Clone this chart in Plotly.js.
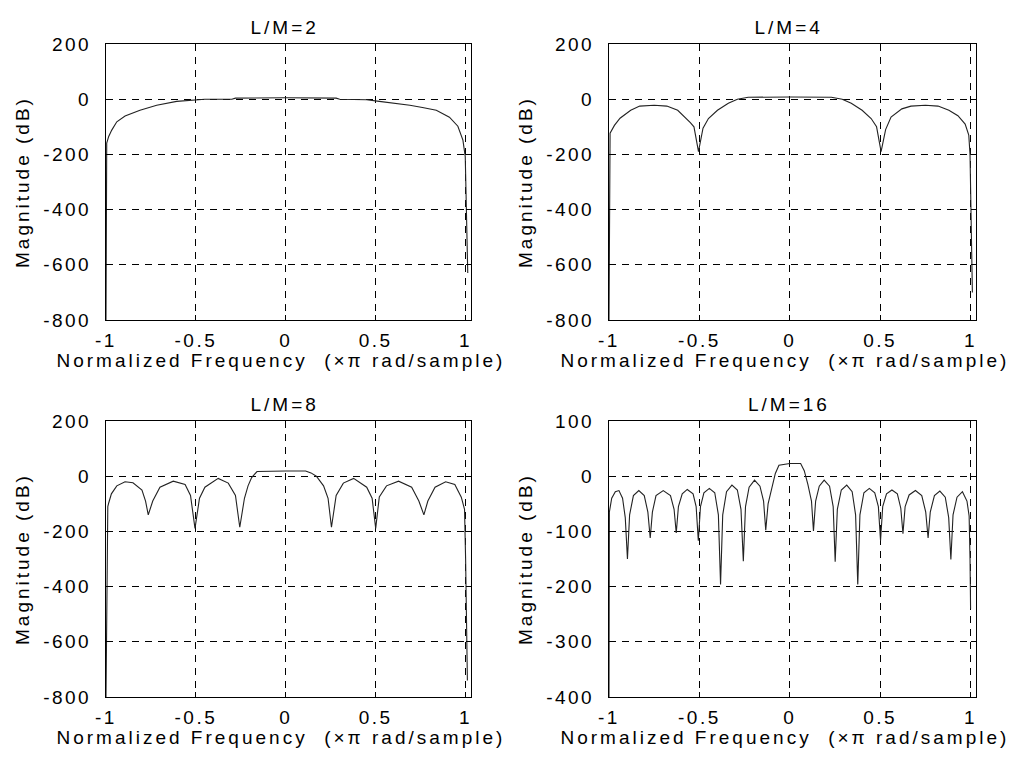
<!DOCTYPE html>
<html>
<head>
<meta charset="utf-8">
<script src="https://cdn.plot.ly/plotly-3.0.1.min.js"></script>
<style>
  html, body { margin: 0; padding: 0; background: #fff; }
  #chart { width: 1019px; height: 762px; }
  #chart text { letter-spacing: 2.5px; }
  #chart .annotation-text { letter-spacing: 3px; }
</style>
</head>
<body>
<div id="chart"></div>
<script>
// ---------- data ----------
const panelTitles = ['L/M=2', 'L/M=4', 'L/M=8', 'L/M=16'];
const xTitleText = 'Normalized Frequency  (\u00d7\u03c0 rad/sample)';
const yTitleText = 'Magnitude (dB)';

const xTickVals = [-1, -0.5, 0, 0.5, 1];
const xTickText = ['-1', '-0.5', '0', '0.5', '1'];
const yTickVals = [200, 0, -200, -400, -600, -800];
const yTickText = ['200', '0', '-200', '-400', '-600', '-800'];
const yTickVals4 = [100, 0, -100, -200, -300, -400];
const yTickText4 = ['100', '0', '-100', '-200', '-300', '-400'];

// L/M = 2
const x1 = [-1, -0.996, -0.985, -0.968, -0.94, -0.894, -0.811, -0.718, -0.607, -0.533, -0.45, -0.3, -0.28, 0, 0.28, 0.3, 0.45, 0.52, 0.6, 0.69, 0.76, 0.837, 0.91, 0.957, 0.985, 0.998, 1.005, 1.012];
const y1 = [-800, -159, -135, -112, -82, -61, -40, -22, -8, -3, 0, 0, 4, 5, 4, 0, -2, -8, -14, -22, -30, -40, -65, -98, -148, -208, -420, -630];

// L/M = 4
const x2 = [-1, -0.994, -0.97, -0.939, -0.88, -0.83, -0.75, -0.68, -0.62, -0.59, -0.55, -0.53, -0.505, -0.48, -0.45, -0.40, -0.34, -0.29, -0.23, 0, 0.23, 0.29, 0.34, 0.40, 0.45, 0.48, 0.505, 0.53, 0.56, 0.62, 0.67, 0.75, 0.82, 0.88, 0.93, 0.97, 0.99, 0.997, 1.003, 1.01];
const y2 = [-800, -123, -95, -69, -40, -25, -22, -25, -40, -58, -85, -100, -190, -105, -70, -40, -15, 0, 7, 8, 7, 0, -15, -40, -70, -100, -190, -110, -65, -35, -25, -22, -25, -40, -60, -90, -130, -200, -450, -700];

// L/M = 8
const x3 = [-1, -0.99, -0.985, -0.97, -0.94, -0.894, -0.85, -0.8, -0.78, -0.765, -0.74, -0.7, -0.626, -0.56, -0.53, -0.505, -0.48, -0.45, -0.376, -0.32, -0.28, -0.256, -0.23, -0.21, -0.19, -0.16, 0, 0.11, 0.14, 0.17, 0.21, 0.235, 0.254, 0.28, 0.32, 0.377, 0.45, 0.48, 0.5, 0.52, 0.56, 0.627, 0.7, 0.74, 0.768, 0.79, 0.83, 0.889, 0.94, 0.976, 0.994, 1.0, 1.01];
const y3 = [-800, -110, -97, -64, -35, -20, -24, -50, -90, -140, -90, -40, -18, -30, -70, -189, -80, -40, -8, -25, -70, -185, -80, -35, -5, 17, 19, 19, 12, 0, -35, -80, -185, -70, -25, -8, -40, -80, -189, -75, -35, -18, -40, -90, -140, -90, -40, -20, -30, -76, -120, -300, -740];

// L/M = 16
const x4 = [-1, -0.998, -0.985, -0.965, -0.945, -0.925, -0.91, -0.898, -0.886, -0.865, -0.835, -0.805, -0.785, -0.772, -0.76, -0.74, -0.70, -0.66, -0.64, -0.628, -0.616, -0.595, -0.567, -0.535, -0.518, -0.506, -0.494, -0.475, -0.445, -0.415, -0.395, -0.383, -0.371, -0.35, -0.32, -0.29, -0.27, -0.257, -0.245, -0.225, -0.195, -0.165, -0.145, -0.133, -0.12, -0.1, -0.08, -0.06, 0, 0.06, 0.08, 0.1, 0.12, 0.131, 0.143, 0.163, 0.19, 0.22, 0.24, 0.251, 0.263, 0.285, 0.315, 0.345, 0.364, 0.376, 0.388, 0.41, 0.44, 0.47, 0.49, 0.502, 0.514, 0.535, 0.565, 0.595, 0.614, 0.626, 0.638, 0.66, 0.695, 0.73, 0.752, 0.765, 0.777, 0.8, 0.83, 0.86, 0.879, 0.891, 0.903, 0.925, 0.955, 0.98, 0.992, 0.997, 1.0];
const y4 = [-400, -65, -40, -28, -26, -40, -75, -150, -70, -35, -26, -35, -65, -112, -65, -35, -26, -35, -60, -103, -55, -32, -24, -32, -55, -117, -55, -30, -22, -30, -70, -196, -70, -28, -16, -25, -60, -154, -55, -20, -7, -18, -45, -98, -50, -20, 5, 20, 23, 23, 10, -15, -45, -99, -45, -18, -7, -18, -55, -155, -60, -25, -16, -28, -70, -196, -70, -30, -22, -30, -55, -117, -55, -32, -25, -32, -58, -104, -55, -34, -26, -35, -65, -112, -65, -35, -27, -38, -75, -151, -70, -38, -28, -45, -72, -150, -240];

// ---------- layout ----------
const W = 1019, H = 762;
const colPx = [[106, 471], [609, 976]];
const rowPx = [[44, 320], [421, 697]];
const FONT = 'Liberation Sans, Arial, sans-serif';

const series = [[x1, y1], [x2, y2], [x3, y3], [x4, y4]];
const traces = [];
const layout = {
  width: W, height: H,
  margin: {l: 0, r: 0, t: 0, b: 0},
  paper_bgcolor: '#fff', plot_bgcolor: '#fff',
  showlegend: false,
  font: {family: FONT, size: 19, color: '#000'},
  annotations: []
};

for (let i = 0; i < 4; i++) {
  const col = i % 2, row = Math.floor(i / 2);
  const sfx = i === 0 ? '' : String(i + 1);
  const xd = [colPx[col][0] / W, colPx[col][1] / W];
  const yd = [1 - rowPx[row][1] / H, 1 - rowPx[row][0] / H];
  traces.push({
    x: series[i][0], y: series[i][1],
    xaxis: 'x' + sfx, yaxis: 'y' + sfx,
    type: 'scatter', mode: 'lines',
    line: {color: '#222', width: 1.1},
    hoverinfo: 'skip'
  });
  const common = {
    showline: true, linecolor: '#000', linewidth: 1, mirror: 'ticks',
    ticks: 'inside', ticklen: 5, tickcolor: '#000',
    showgrid: true, gridcolor: '#000', gridwidth: 1, griddash: '7px,6px',
    zeroline: false, fixedrange: true,
    tickfont: {family: FONT, size: 19, color: '#000'}
  };
  layout['xaxis' + sfx] = Object.assign({}, common, {
    domain: xd, anchor: 'y' + sfx, range: [-1, 1.03],
    tickmode: 'array', tickvals: xTickVals, ticktext: xTickText,
    ticklabelstandoff: 3
  });
  const is4 = i === 3;
  layout['yaxis' + sfx] = Object.assign({}, common, {
    domain: yd, anchor: 'x' + sfx,
    range: is4 ? [-400, 100] : [-800, 200],
    tickmode: 'array',
    tickvals: is4 ? yTickVals4 : yTickVals,
    ticktext: is4 ? yTickText4 : yTickText,
    ticklabelstandoff: 10
  });
  const cx = (colPx[col][0] + colPx[col][1]) / 2;
  // panel title
  layout.annotations.push({
    text: panelTitles[i], xref: 'paper', yref: 'paper',
    x: (cx - 4) / W, y: 1 - (rowPx[row][0] - 17) / H,
    xanchor: 'center', yanchor: 'middle', showarrow: false,
    font: {family: FONT, size: 19, color: '#000'}
  });
  // x title
  layout.annotations.push({
    text: xTitleText, xref: 'paper', yref: 'paper',
    x: (cx - 8) / W, y: 1 - (rowPx[row][1] + 40) / H,
    xanchor: 'center', yanchor: 'middle', showarrow: false,
    font: {family: FONT, size: 19, color: '#000'}
  });
  // y title
  layout.annotations.push({
    text: yTitleText, xref: 'paper', yref: 'paper',
    x: (colPx[col][0] - 84) / W, y: 1 - ((rowPx[row][0] + rowPx[row][1]) / 2) / H,
    xanchor: 'center', yanchor: 'middle', showarrow: false, textangle: -90,
    font: {family: FONT, size: 19, color: '#000'}
  });
}

Plotly.newPlot('chart', traces, layout, {displayModeBar: false, staticPlot: true});
</script>
</body>
</html>
